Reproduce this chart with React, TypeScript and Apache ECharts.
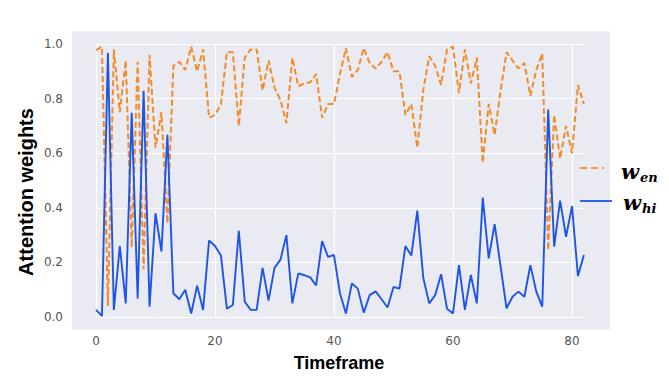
import React, { useEffect, useRef } from "react";
import * as echarts from "echarts";

const timeframes: number[] = Array.from({ length: 83 }, (_, i) => i);

const wEn: number[] = [
  0.978, 0.99, 0.04, 0.98, 0.75, 0.94, 0.255, 0.935, 0.175, 0.96,
  0.62, 0.75, 0.343, 0.92, 0.935, 0.905, 0.99, 0.9, 0.98, 0.73,
  0.74, 0.78, 0.97, 0.97, 0.7, 0.95, 0.98, 0.98, 0.83, 0.94,
  0.84, 0.795, 0.71, 0.95, 0.845, 0.855, 0.86, 0.89, 0.73, 0.78,
  0.78, 0.89, 0.985, 0.88, 0.905, 0.985, 0.93, 0.91, 0.935, 0.97,
  0.9, 0.9, 0.74, 0.78, 0.62, 0.83, 0.955, 0.92, 0.85, 0.98,
  0.99, 0.82, 0.98, 0.856, 0.95, 0.565, 0.78, 0.667, 0.83, 0.97,
  0.94, 0.91, 0.93, 0.81, 0.905, 0.965, 0.245, 0.74, 0.58, 0.7,
  0.6, 0.85, 0.78,
];

const wHi: number[] = [
  0.026, 0.004, 0.968, 0.026, 0.26, 0.05, 0.748, 0.068, 0.829, 0.038,
  0.38, 0.24, 0.667, 0.087, 0.065, 0.1, 0.013, 0.115, 0.026, 0.28,
  0.26, 0.225, 0.03, 0.044, 0.316, 0.056, 0.026, 0.026, 0.18, 0.06,
  0.18, 0.21, 0.3, 0.05, 0.16, 0.153, 0.145, 0.116, 0.278, 0.22,
  0.227, 0.087, 0.013, 0.123, 0.104, 0.016, 0.08, 0.094, 0.065, 0.035,
  0.11, 0.104, 0.26, 0.225, 0.39, 0.145, 0.05, 0.08, 0.157, 0.03,
  0.013, 0.19, 0.026, 0.154, 0.05, 0.437, 0.215, 0.34, 0.185, 0.032,
  0.074, 0.093, 0.074, 0.19, 0.093, 0.038, 0.76, 0.258, 0.426, 0.294,
  0.406, 0.15, 0.227,
];

const xTicks = { min: 0, max: 82, interval: 20 };
const yTicks = { min: 0, max: 1, interval: 0.2 };

const ORANGE = "#F28C28";
const BLUE = "#1F55E6";

export default function App() {
  const ref = useRef<HTMLDivElement>(null);

  useEffect(() => {
    if (!ref.current) return;
    const chart = echarts.init(ref.current, undefined, { renderer: "svg" });
    const tickFont = { color: "#555555", fontSize: 12, fontFamily: "DejaVu Sans" };
    chart.setOption({
      animation: false,
      backgroundColor: "#ffffff",
      grid: { left: 96, right: 85.1, top: 44, bottom: 61, show: false },
      xAxis: {
        type: "value",
        min: xTicks.min,
        max: xTicks.max,
        interval: xTicks.interval,
        axisLine: { show: false },
        axisTick: { show: false },
        axisLabel: { ...tickFont, margin: 18, showMaxLabel: false },
        splitLine: { show: true, showMaxLine: false, lineStyle: { color: "#ffffff", width: 1.2 } },
      },
      yAxis: {
        type: "value",
        min: yTicks.min,
        max: yTicks.max,
        interval: yTicks.interval,
        axisLine: { show: false },
        axisTick: { show: false },
        axisLabel: { ...tickFont, margin: 33, formatter: (v: number) => v.toFixed(1) },
        splitLine: { show: true, lineStyle: { color: "#ffffff", width: 1.2 } },
      },
      graphic: [
        {
          type: "rect",
          z: -10,
          silent: true,
          shape: { x: 72, y: 31.6, width: 538, height: 297.8 },
          style: { fill: "#EAEAF2" },
        },
        {
          type: "text",
          x: 26,
          y: 192,
          rotation: Math.PI / 2,
          style: {
            text: "Attention weights",
            font: "bold 20px 'Liberation Sans'",
            fill: "#000000",
            align: "center",
            verticalAlign: "middle",
          },
        },
        {
          type: "text",
          x: 339,
          y: 363,
          style: {
            text: "Timeframe",
            font: "bold 18px 'Liberation Sans'",
            fill: "#000000",
            align: "center",
            verticalAlign: "middle",
          },
        },
        {
          type: "line",
          z: 10,
          shape: { x1: 580, y1: 168, x2: 604, y2: 168 },
          style: { stroke: ORANGE, lineWidth: 1.8, lineDash: [7, 4], opacity: 0.85 },
        },
        {
          type: "line",
          z: 10,
          shape: { x1: 580, y1: 201, x2: 612, y2: 201 },
          style: { stroke: BLUE, lineWidth: 1.8 },
        },
        {
          type: "text",
          z: 10,
          x: 621,
          y: 171,
          style: {
            text: "w",
            font: "italic bold 21px 'DejaVu Serif'",
            fill: "#000000",
            align: "left",
            verticalAlign: "middle",
          },
        },
        {
          type: "text",
          z: 10,
          x: 640,
          y: 177,
          style: {
            text: "en",
            font: "italic bold 13px 'DejaVu Serif'",
            fill: "#000000",
            align: "left",
            verticalAlign: "middle",
          },
        },
        {
          type: "text",
          z: 10,
          x: 623,
          y: 202,
          style: {
            text: "w",
            font: "italic bold 21px 'DejaVu Serif'",
            fill: "#000000",
            align: "left",
            verticalAlign: "middle",
          },
        },
        {
          type: "text",
          z: 10,
          x: 642,
          y: 208,
          style: {
            text: "hi",
            font: "italic bold 13px 'DejaVu Serif'",
            fill: "#000000",
            align: "left",
            verticalAlign: "middle",
          },
        },
      ],
      series: [
        {
          name: "w_en",
          type: "line",
          data: timeframes.map((t, i) => [t, wEn[i]]),
          showSymbol: false,
          symbol: "none",
          lineStyle: { color: ORANGE, width: 2, type: [6, 3] },
          z: 2,
        },
        {
          name: "w_hi",
          type: "line",
          data: timeframes.map((t, i) => [t, wHi[i]]),
          showSymbol: false,
          symbol: "none",
          lineStyle: { color: BLUE, width: 1.9 },
          z: 3,
        },
      ],
    });
    return () => chart.dispose();
  }, []);

  return (
    <div
      ref={ref}
      style={{ position: "fixed", left: 0, top: 0, width: 669, height: 378, background: "#ffffff" }}
    />
  );
}
